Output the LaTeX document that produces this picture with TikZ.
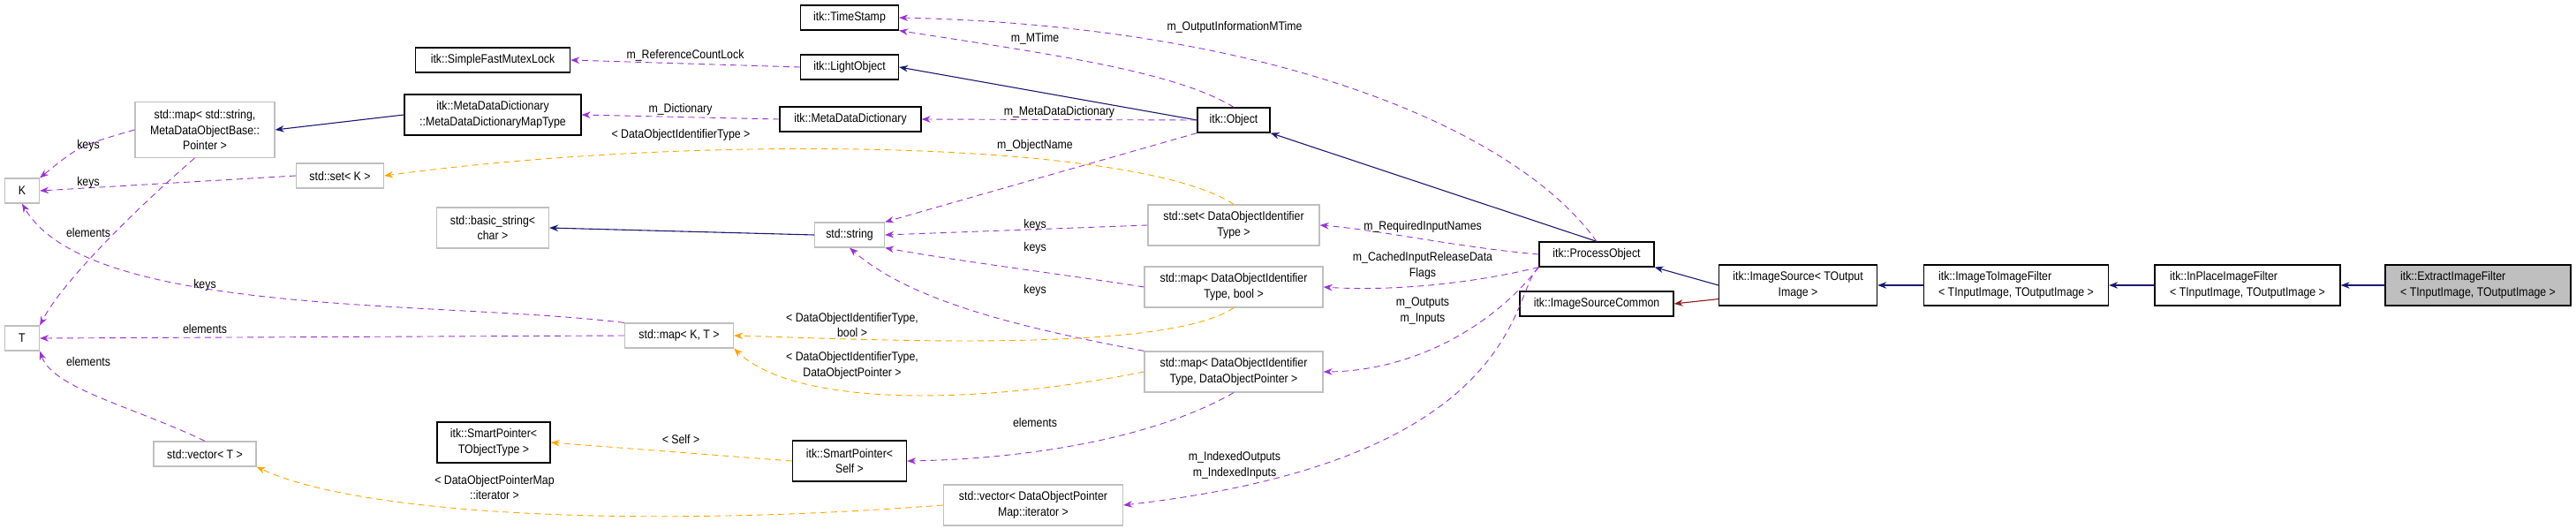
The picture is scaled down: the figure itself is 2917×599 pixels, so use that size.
\documentclass[tikz,border=0pt]{standalone}
\usepackage{fontspec}
\setmainfont{Liberation Sans}[FakeStretch=0.88]
\usetikzlibrary{arrows.meta}
\definecolor{pu}{HTML}{9A32CD}
\definecolor{orn}{HTML}{FFA500}
\definecolor{nv}{HTML}{191970}
\definecolor{fb}{HTML}{8B1A1A}
\definecolor{gb}{HTML}{BFBFBF}
\begin{document}
\begin{tikzpicture}[x=1pt,y=-1pt,
  every node/.style={font=\fontsize{14}{17.5}\selectfont, inner sep=0pt, align=center},
  box/.style={draw=black, line width=1.2pt, rectangle, minimum height=28},
  gbox/.style={draw=gb, line width=1.2pt, rectangle, minimum height=28},
  two/.style={minimum height=46},
  tip/.style={-{Stealth[length=10pt,width=7.5pt]}},
  mem/.style={tip, draw=pu, line width=0.9pt, dash pattern=on 7pt off 5pt},
  tpl/.style={tip, draw=orn, line width=0.9pt, dash pattern=on 7pt off 5pt},
  inh/.style={tip, draw=nv, line width=1.1pt},
  inr/.style={tip, draw=fb, line width=1.1pt},
  lbl/.style={font=\fontsize{14}{17.5}\selectfont}]
\useasboundingbox (0,0) rectangle (2917,599);
% nodes
\node[box, minimum width=175] (sfml) at (558,68) {itk::SimpleFastMutexLock};
\node[box, two, minimum width=200] (mdmt) at (558,130) {itk::MetaDataDictionary\\::MetaDataDictionaryMapType};
\node[gbox, minimum width=158, minimum height=63] (mapstr) at (232,147) {std::map< std::string,\\MetaDataObjectBase::\\Pointer >};
\node[gbox, minimum width=39] (K) at (25,216) {K};
\node[gbox, minimum width=99] (setK) at (385,199) {std::set< K >};
\node[gbox, two, minimum width=127] (bstr) at (558,258) {std::basic\_string<\\char >};
\node[gbox, minimum width=39] (T) at (25,383) {T};
\node[gbox, minimum width=123] (mapKT) at (769,380) {std::map< K, T >};
\node[gbox, minimum width=116] (vecT) at (232,514) {std::vector< T >};
\node[box, two, minimum width=128] (spT) at (559,501) {itk::SmartPointer<\\TObjectType >};
\node[box, minimum width=111] (ts) at (962,20) {itk::TimeStamp};
\node[box, minimum width=111] (lo) at (962,76) {itk::LightObject};
\node[box, minimum width=160] (mdd) at (963,135) {itk::MetaDataDictionary};
\node[box, minimum width=82] (obj) at (1397,136) {itk::Object};
\node[gbox, minimum width=79] (str) at (962,266) {std::string};
\node[gbox, two, minimum width=194] (setD) at (1397,255) {std::set< DataObjectIdentifier\\Type >};
\node[gbox, two, minimum width=202] (mapB) at (1397,325) {std::map< DataObjectIdentifier\\Type, bool >};
\node[gbox, two, minimum width=202] (mapP) at (1397,421) {std::map< DataObjectIdentifier\\Type, DataObjectPointer >};
\node[box, two, minimum width=129] (spS) at (962,522) {itk::SmartPointer<\\Self >};
\node[gbox, two, minimum width=203] (vecD) at (1170,572) {std::vector< DataObjectPointer\\Map::iterator >};
\node[box, minimum width=130] (po) at (1808,288) {itk::ProcessObject};
\node[box, minimum width=174] (isc) at (1808,344) {itk::ImageSourceCommon};
\node[box, two, minimum width=179] (is) at (2036,323) {itk::ImageSource< TOutput\\Image >};
\node[box, two, minimum width=209, align=left] (itif) at (2283,323) {itk::ImageToImageFilter\\< TInputImage, TOutputImage >};
\node[box, two, minimum width=210, align=left] (ipif) at (2545,323) {itk::InPlaceImageFilter\\< TInputImage, TOutputImage >};
\node[box, two, minimum width=210, align=left, fill=gb] (eif) at (2806,323) {itk::ExtractImageFilter\\< TInputImage, TOutputImage >};
% inheritance
\draw[inh] (mdmt.west) -- (mapstr.east);
\draw[inh] (obj.west) -- (lo.east);
\draw[inh] (po.north) -- (obj.south east);
\draw[inh] (str.west) -- (bstr.east);
\draw[inh] (is.west) -- (po.south east);
\draw[inr] (is.south west) ++(0,-8) coordinate (isr) (isr) -- (isc.east);
\draw[inh] (itif.west) -- (is.east);
\draw[inh] (ipif.west) -- (itif.east);
\draw[inh] (eif.west) -- (ipif.east);
% members
\draw[mem] (lo.west) -- node[lbl, above=2pt] {m\_ReferenceCountLock} (sfml.east);
\draw[mem] (mdd.west) -- node[lbl, above=2pt] {m\_Dictionary} (mdmt.east);
\draw[mem] (mapstr.west) .. controls (90,165) .. (K.north east);
\node[lbl] (lk0) at (100,165) {keys};
\draw[mem] (mapstr.250) .. controls (150,240) and (70,320) .. (T.north east);
\node[lbl] (le1) at (100,263) {elements};
\draw[mem] (setK.west) -- (K.east);
\node[lbl] (lk5) at (100,207) {keys};
\draw[tpl] (setD.north) .. controls (1290,160) and (800,150) .. (setK.east);
\node[lbl] (lt1) at (771,153) {< DataObjectIdentifierType >};
\draw[mem] (obj.north) .. controls (1330,80) and (1180,60) .. (ts.south east);
\node[lbl] (lm1) at (1172,44) {m\_MTime};
\draw[mem] (po.north) .. controls (1720,150) and (1450,30) .. (ts.east);
\node[lbl] (lm2) at (1398,31) {m\_OutputInformationMTime};
\draw[mem] (obj.west) -- node[lbl, above=2pt] {m\_MetaDataDictionary} (mdd.east);
\draw[mem] (obj.south west) -- (str.north east);
\node[lbl] (lm3) at (1172,165) {m\_ObjectName};
\draw[mem] (setD.west) -- (str.east);
\node[lbl] (lk1) at (1172,255) {keys};
\draw[mem] (mapB.west) .. controls (1200,310) and (1080,295) .. (str.south east);
\node[lbl] (lk2) at (1172,281) {keys};
\draw[mem] (mapP.north west) .. controls (1150,370) and (1030,340) .. (str.south);
\node[lbl] (lk3) at (1172,329) {keys};
\draw[mem] (po.west) .. controls (1650,280) and (1560,260) .. (setD.east);
\node[lbl] (lm4) at (1611,257) {m\_RequiredInputNames};
\draw[mem] (po.south west) .. controls (1650,325) and (1560,329) .. (mapB.east);
\node[lbl] (lm5) at (1611,301) {m\_CachedInputReleaseData\\Flags};
\draw[mem] (po.south west) .. controls (1690,370) and (1600,420) .. (mapP.east);
\node[lbl] (lm6) at (1611,352) {m\_Outputs\\m\_Inputs};
\draw[mem] (po.south west) .. controls (1710,330) and (1730,520) .. (vecD.east);
\node[lbl] (lm7) at (1398,527) {m\_IndexedOutputs\\m\_IndexedInputs};
\draw[mem] (mapP.south) .. controls (1300,500) and (1150,520) .. (spS.east);
\node[lbl] (le2) at (1172,478) {elements};
\draw[tpl] (spS.west) -- (spT.east);
\node[lbl] (lt2) at (771,497) {< Self >};
\draw[mem] (mapKT.north west) .. controls (500,340) and (100,360) .. (K.south);
\node[lbl] (lk4) at (232,323) {keys};
\draw[mem] (mapKT.west) -- (T.east);
\node[lbl] (le3) at (232,372) {elements};
\draw[tpl] (mapB.south) .. controls (1320,400) and (1000,385) .. (mapKT.east);
\node[lbl] (lt3) at (965,368) {< DataObjectIdentifierType,\\bool >};
\draw[tpl] (mapP.west) .. controls (1100,460) and (900,460) .. (mapKT.south east);
\node[lbl] (lt4) at (965,414) {< DataObjectIdentifierType,\\DataObjectPointer >};
\draw[mem] (vecT.north) .. controls (150,460) and (60,440) .. (T.south east);
\node[lbl] (le4) at (100,409) {elements};
\draw[tpl] (vecD.west) .. controls (700,600) and (400,580) .. (vecT.south east);
\node[lbl] (lt5) at (560,552) {< DataObjectPointerMap\\::iterator >};
\end{tikzpicture}
\end{document}
